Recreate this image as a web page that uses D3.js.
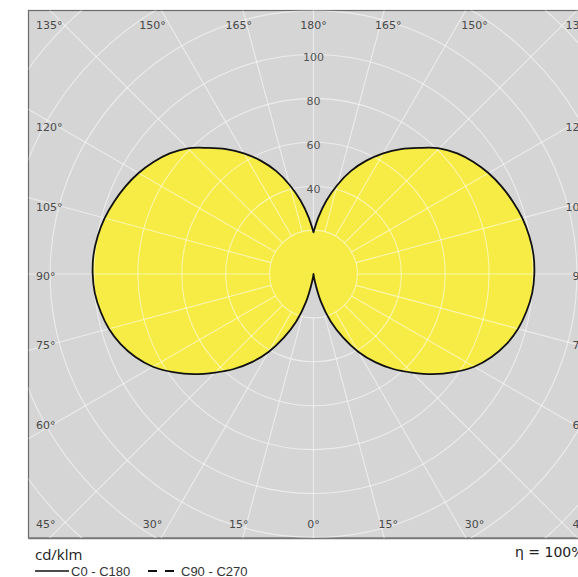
<!DOCTYPE html>
<html>
<head>
<meta charset="utf-8">
<script src="https://cdn.jsdelivr.net/npm/d3@7"></script>
<style>
  body { margin: 0; background: #fff; }
  svg { display: block; }
</style>
</head>
<body>
<svg id="chart"></svg>
<script>
// gamma angles (deg) and luminous intensity (cd/klm)
const gammaAngles = [0, 5, 10, 15, 20, 25, 30, 35, 40, 45, 50, 55, 60, 65, 70, 75, 80, 85, 90,
    95, 100, 105, 110, 115, 120, 125, 130, 135, 140, 145, 150, 155, 160, 165, 170, 175, 180];
const c0c180 = [0, 0, 3, 13, 23, 32, 41, 49, 56.5, 63.5, 71, 78, 84.5, 89.5, 93.5, 96.5, 98.5, 100, 100.6,
    100.6, 99.8, 98.5, 96.6, 94.5, 92, 89, 85.5, 81, 75, 69.5, 63.5, 57, 50, 42, 34, 26, 19];

const ringValues = [20, 40, 60, 80, 100, 120, 140, 160, 180];
const ringLabels = [40, 60, 80, 100];
const angleTicks = [0, 15, 30, 45, 60, 75, 90, 105, 120, 135, 150, 165, 180];
const legendItems = ["C0 - C180", "C90 - C270"];
const unitLabel = "cd/klm";
const efficiencyLabel = "\u03b7 = 100%";

const width = 578, height = 577;
const frame = { x: 28.5, y: 10.5, w: 572, h: 527.5 };
const cx = 313.5, cy = 274;

const svg = d3.select("#chart")
    .attr("width", width)
    .attr("height", height);

// radius scale
const rScale = d3.scaleLinear().domain([0, 100]).range([0, 219.5]);
const toRad = d => d * Math.PI / 180;

svg.append("clipPath").attr("id", "frameClip")
    .append("rect")
    .attr("x", frame.x).attr("y", frame.y)
    .attr("width", frame.w).attr("height", frame.h);

// grey plot background with border
svg.append("rect")
    .attr("x", frame.x).attr("y", frame.y)
    .attr("width", frame.w).attr("height", frame.h)
    .attr("fill", "#d5d5d5")
    .attr("stroke", "#6a6a6a")
    .attr("stroke-width", 1.2);
svg.append("line")
    .attr("x1", frame.x).attr("x2", frame.x + frame.w)
    .attr("y1", frame.y + frame.h + 0.5).attr("y2", frame.y + frame.h + 0.5)
    .attr("stroke", "#777").attr("stroke-width", 1.5);

const plot = svg.append("g")
    .attr("clip-path", "url(#frameClip)")
    .append("g")
    .attr("transform", `translate(${cx},${cy})`);

// curve: C0 on the right side (gamma 0 at bottom), C180 mirrored on the left
const radial = d3.lineRadial()
    .angle(d => d.a)
    .radius(d => rScale(d.v))
    .curve(d3.curveCatmullRom.alpha(0.5));

const rightPts = gammaAngles.map((g, i) => ({ a: Math.PI - toRad(g), v: c0c180[i] }));
const leftPts = gammaAngles.map((g, i) => ({ a: toRad(g) - Math.PI, v: c0c180[i] })).reverse();
const outline = radial(rightPts) + radial(leftPts).replace(/^M/, "L") + "Z";

plot.append("path")
    .attr("d", outline)
    .attr("fill", "#f6ec45");

// grid drawn over the fill
const grid = plot.append("g")
    .attr("stroke", "#fff")
    .attr("stroke-opacity", 0.55)
    .attr("stroke-width", 1.1)
    .attr("fill", "none");

grid.selectAll("circle")
    .data(ringValues)
    .join("circle")
    .attr("r", d => rScale(d));

const spokes = d3.range(0, 360, 15);
grid.selectAll("line")
    .data(spokes)
    .join("line")
    .attr("x1", d => rScale(20) * Math.sin(toRad(d)))
    .attr("y1", d => rScale(20) * Math.cos(toRad(d)))
    .attr("x2", d => rScale(200) * Math.sin(toRad(d)))
    .attr("y2", d => rScale(200) * Math.cos(toRad(d)));

plot.append("path")
    .attr("d", outline)
    .attr("fill", "none")
    .attr("stroke", "#111")
    .attr("stroke-width", 1.8)
    .attr("stroke-linejoin", "round");

// ring value labels along the upper vertical axis
plot.selectAll("text.ring")
    .data(ringLabels)
    .join("text")
    .attr("class", "ring")
    .attr("x", 0)
    .attr("y", d => -rScale(d) + 6.5)
    .attr("text-anchor", "middle")
    .attr("font-family", "DejaVu Sans")
    .attr("font-size", 11)
    .attr("fill", "#555")
    .text(d => d);

// angle labels around the frame
const angleLabelData = [];
angleTicks.forEach(g => {
    const sides = (g === 0 || g === 180) ? [1] : [-1, 1];
    sides.forEach(s => angleLabelData.push({ g, s }));
});

const leftX = frame.x + 7.5, rightX = 592;

function labelPos(d) {
    const edge = d.s < 0 ? leftX : rightX;
    const edgeAnchor = d.s < 0 ? "start" : "end";
    if (d.g <= 45 || d.g >= 135) {
        const y = d.g <= 45 ? 528 : 29;
        if (d.g === 45 || d.g === 135) return [edge, y, edgeAnchor];
        const phi = d.g <= 45 ? d.g : 180 - d.g;
        return [cx + d.s * 279 * Math.tan(toRad(phi)), y, "middle"];
    }
    return [edge, cy + 6 + 258 * Math.tan(toRad(90 - d.g)), edgeAnchor];
}

svg.append("g")
    .attr("clip-path", "url(#frameClip)")
    .selectAll("text")
    .data(angleLabelData)
    .join("text")
    .attr("x", d => labelPos(d)[0])
    .attr("y", d => labelPos(d)[1])
    .attr("text-anchor", d => labelPos(d)[2])
    .attr("font-family", "DejaVu Sans")
    .attr("font-size", 11)
    .attr("fill", "#4a4a4a")
    .text(d => d.g + "\u00b0");

// unit, legend and efficiency
svg.append("text")
    .attr("x", 35).attr("y", 560)
    .attr("font-family", "Open Sans")
    .attr("font-size", 15)
    .attr("fill", "#222")
    .text(unitLabel);

const legend = svg.append("g").attr("font-family", "Liberation Sans").attr("font-size", 13).attr("fill", "#333");
legend.append("line")
    .attr("x1", 35).attr("x2", 69).attr("y1", 571).attr("y2", 571)
    .attr("stroke", "#111").attr("stroke-width", 1.5);
legend.append("text").attr("x", 71).attr("y", 576).text(legendItems[0]);
legend.append("line")
    .attr("x1", 148).attr("x2", 174).attr("y1", 571).attr("y2", 571)
    .attr("stroke", "#111").attr("stroke-width", 2)
    .attr("stroke-dasharray", "9,8");
legend.append("text").attr("x", 181).attr("y", 576).text(legendItems[1]);

svg.append("text")
    .attr("x", 515).attr("y", 557)
    .attr("font-family", "DejaVu Sans")
    .attr("font-size", 14)
    .attr("fill", "#222")
    .text(efficiencyLabel);
</script>
</body>
</html>
